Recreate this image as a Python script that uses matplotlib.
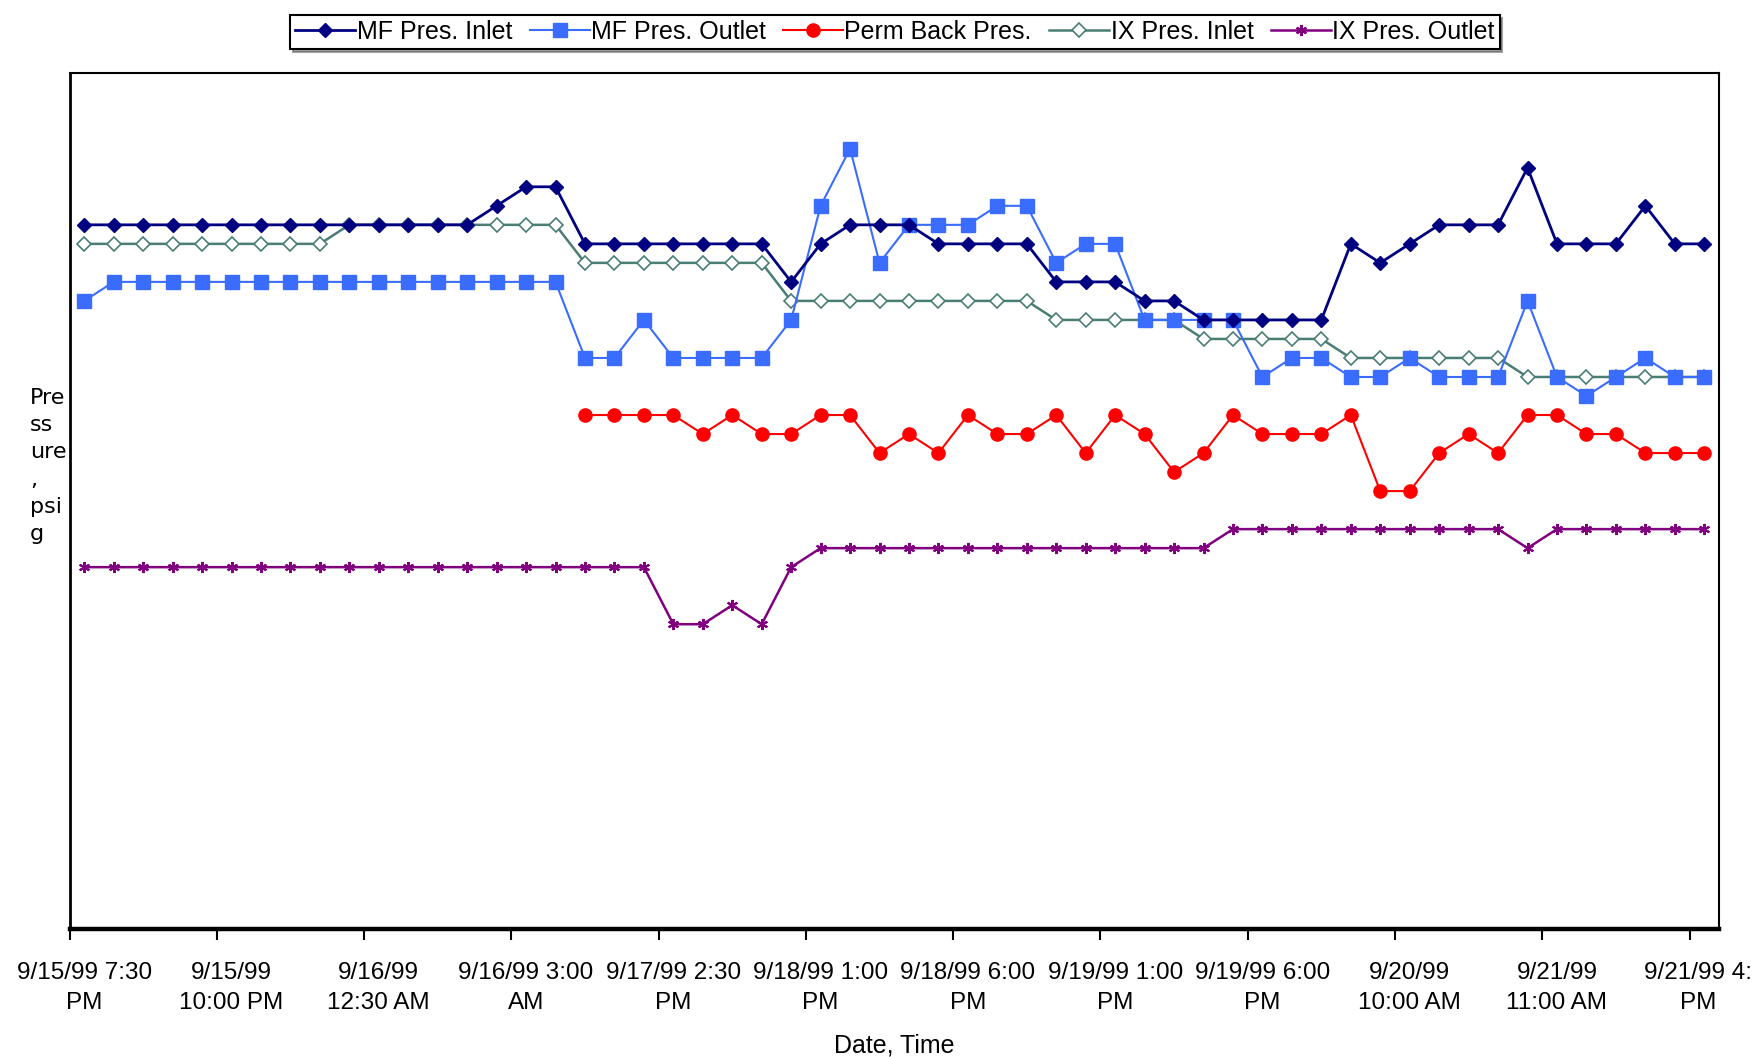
import matplotlib
matplotlib.use("Agg")
import matplotlib.pyplot as plt
import numpy as np

# ---- data ----
tick_labels = ["9/15/99 7:30\nPM", "9/15/99\n10:00 PM", "9/16/99\n12:30 AM", "9/16/99 3:00\nAM",
               "9/17/99 2:30\nPM", "9/18/99 1:00\nPM", "9/18/99 6:00\nPM", "9/19/99 1:00\nPM",
               "9/19/99 6:00\nPM", "9/20/99\n10:00 AM", "9/21/99\n11:00 AM", "9/21/99 4:\nPM"]
n_points = 56

mf_inlet = [37, 37, 37, 37, 37, 37, 37, 37, 37, 37, 37, 37, 37, 37, 38, 39, 39,
            36, 36, 36, 36, 36, 36, 36, 34, 36, 37, 37, 37, 36, 36, 36,
            36, 34, 34, 34, 33, 33, 32, 32, 32, 32, 32, 36, 35, 36, 37, 37, 37, 40,
            36, 36, 36, 38, 36, 36]
mf_outlet = [33, 34, 34, 34, 34, 34, 34, 34, 34, 34, 34, 34, 34, 34, 34, 34, 34,
             30, 30, 32, 30, 30, 30, 30, 32, 38, 41, 35, 37, 37, 37, 38,
             38, 35, 36, 36, 32, 32, 32, 32, 29, 30, 30, 29, 29, 30, 29, 29, 29, 33,
             29, 28, 29, 30, 29, 29]
perm_back = [np.nan] * 17 + [27, 27, 27, 27, 26, 27, 26, 26, 27, 27, 25, 26, 25, 27, 26,
                             26, 27, 25, 27, 26, 24, 25, 27, 26, 26, 26, 27, 23, 23, 25, 26, 25,
                             27, 27, 26, 26, 25, 25, 25]
ix_inlet = [36] * 9 + [37] * 8 + [35] * 7 + [33] * 9 + [32] * 5 + [31] * 5 + [30] * 6 + [29] * 7
ix_outlet = [19] * 20 + [16, 16, 17, 16, 19] + [20] * 14 + [21] * 10 + [20] + [21] * 6

series_names = ["MF Pres. Inlet", "MF Pres. Outlet", "Perm Back Pres.", "IX Pres. Inlet", "IX Pres. Outlet"]

# ---- figure ----
W, H = 1754, 1057
fig = plt.figure(figsize=(W / 100, H / 100), dpi=100)
ax_bottom_px = 928.5
ax = fig.add_axes([69.5 / W, 1 - ax_bottom_px / H, (1719 - 69.5) / W, (ax_bottom_px - 72.7) / H])

x = np.arange(n_points)
font = ['Liberation Sans', 'DejaVu Sans']

ax.plot(x, ix_inlet, color='#4a7d74', lw=1.8, marker='D', ms=7.5, mfc='white', mec='#4a7d74', mew=1.2,
        label=series_names[3], zorder=3)
ax.plot(x, mf_outlet, color='#3a6cff', lw=1.5, marker='s', ms=9.5, mfc='#3a6cff', mec='#3a6cff',
        label=series_names[1], zorder=4)
ax.plot(x, mf_inlet, color='#000080', lw=2.0, marker='D', ms=7.5, mfc='#000080', mec='#000080',
        label=series_names[0], zorder=5)
ax.plot(x, perm_back, color='#ff0000', lw=1.5, marker='o', ms=9.5, mfc='#ff0000', mec='#ff0000',
        label=series_names[2], zorder=3)
ax.plot(x, ix_outlet, color='#800080', lw=1.8, marker=(6, 2, 0), ms=8, mec='#800080', mew=1.5,
        label=series_names[4], zorder=3)

ax.set_xlim(-0.5, n_points - 0.5)
ax.set_ylim(0, 45)
ax.set_yticks([])

# tick marks at category boundaries, labels at categories (every 5th)
pad_pt = 24
fs_tick = 17.5
ax.set_xticks(np.arange(-0.5, n_points - 0.5, 5))
ax.set_xticklabels([])
ax.tick_params(axis='x', which='major', direction='out', length=8, width=1.5, color='black')
label_pos = np.arange(0, n_points, 5)
ax.set_xticks(label_pos[:-1], minor=True)
ax.set_xticklabels(tick_labels[:-1], minor=True, family=font, fontsize=fs_tick, linespacing=1.5,
                   multialignment='center')
ax.tick_params(axis='x', which='minor', length=0, pad=pad_pt)
# last label sits against the right edge of the figure (cut short as in the original)
fig.text(1 - 2 / W, 1 - (ax_bottom_px + pad_pt * 100 / 72) / H, tick_labels[-1], ha='right', va='top',
         multialignment='center', family=font, fontsize=fs_tick, linespacing=1.5)

for s in ['top', 'right']:
    ax.spines[s].set_linewidth(1.5)
ax.spines['left'].set_linewidth(2)
ax.spines['bottom'].set_linewidth(3.2)

ax.set_xlabel("Date, Time", family=font, fontsize=18, labelpad=14)

fig.text(30 / W, 1 - 466 / H, "Pre\nss\nure\n,\npsi\ng", ha='left', va='center',
         fontsize=16, linespacing=1.45, family='DejaVu Sans')

handles, labels = ax.get_legend_handles_labels()
order = [labels.index(n) for n in series_names]
leg = fig.legend([handles[i] for i in order], [labels[i] for i in order], loc='center',
                 bbox_to_anchor=(895 / W, 1 - 32 / H), ncol=5, frameon=True, fancybox=False,
                 shadow=True, edgecolor='black', prop={'family': font, 'size': 18},
                 handlelength=2.4, handletextpad=0.05, columnspacing=0.7, borderpad=0.2,
                 borderaxespad=0)
leg.get_frame().set_linewidth(1.5)

fig.savefig("out.png", dpi=100)
